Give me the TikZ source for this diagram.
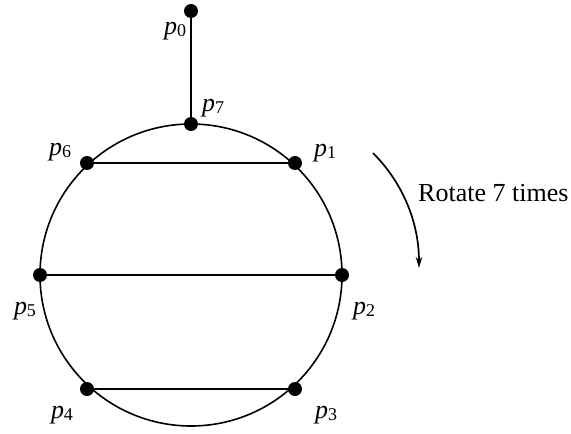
\documentclass[tikz,border=0pt]{standalone}
\usepackage{fontspec}
\setmainfont{Liberation Serif}
\usepackage{tikz}
\usetikzlibrary{arrows.meta,positioning}
\newcommand{\plbl}[1]{\textit{p}\raisebox{-2pt}{\fontsize{18}{20}\selectfont #1}}

\begin{document}
\begin{tikzpicture}[
  x=1pt, y=-1pt, font=\fontsize{26}{30}\selectfont,
  >={Stealth[length=11pt,width=6.5pt]},
  dot/.style={circle, fill=black, inner sep=0pt, minimum size=14pt},
  ring/.style={line width=1.6pt},
  chord/.style={line width=2.3pt},
  stem/.style={line width=1.8pt},
  lbl/.style={inner sep=0pt}]
\useasboundingbox (0,0) rectangle (571,434);
% circle
\coordinate (c) at (191,275);
\draw[ring] (c) circle[radius=151];
% points
\node[dot] (p0) at (191,11) {};
\node[dot] (p7) at (191,124) {};
\node[dot] (p6) at (87,163) {};
\node[dot] (p1) at (295,163) {};
\node[dot] (p5) at (40,275) {};
\node[dot] (p2) at (342,275) {};
\node[dot] (p4) at (87,389) {};
\node[dot] (p3) at (295,389) {};
% chords
\draw[stem] (p0.center) -- (p7.center);
\draw[chord] (p6.center) -- (p1.center);
\draw[chord] (p5.center) -- (p2.center);
\draw[chord] (p4.center) -- (p3.center);
% labels
\node[lbl] (l0) at (175,31) {\plbl{0}};
\node[lbl] (l7) at (213,108) {\plbl{7}};
\node[lbl] (l6) at (60,152) {\plbl{6}};
\node[lbl] (l1) at (325,153) {\plbl{1}};
\node[lbl] (l5) at (25,311) {\plbl{5}};
\node[lbl] (l2) at (364,311) {\plbl{2}};
\node[lbl] (l4) at (62,415) {\plbl{4}};
\node[lbl] (l3) at (326,415) {\plbl{3}};
% rotation arrow
\coordinate (r0) at (373,153);
\coordinate (r1) at (419,268);
\draw[->, line width=1.7pt] (r0) .. controls (401,181) and (419,220) .. (r1);
\node[lbl, anchor=base west] (rot) at (418,201) {Rotate 7 times};
\end{tikzpicture}
\end{document}
